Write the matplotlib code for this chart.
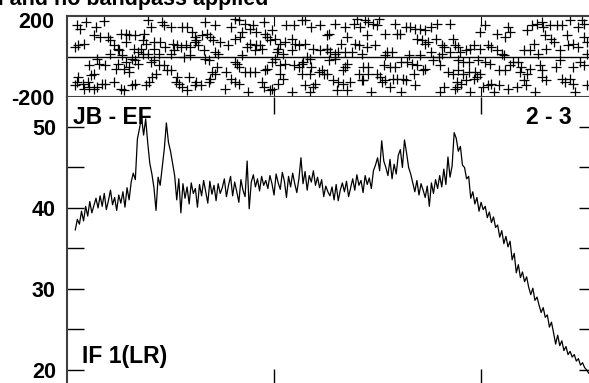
"""Phase and amplitude of the JB - EF baseline, IF 1 (LR)."""
import numpy as np
import matplotlib
matplotlib.use('Agg')
import matplotlib.pyplot as plt
from matplotlib.transforms import ScaledTranslation

plt.rcParams['font.family'] = ['Liberation Sans', 'DejaVu Sans']
plt.rcParams['font.weight'] = 'bold'

title = 'No calibration and no bandpass applied'
baseline = 'JB - EF'
stokes = 'IF 1(LR)'
scan = '2 - 3'

# phase points: channel, phase (deg)
phase_chan = [
    10, 13, 18, 28, 36, 78, 81, 92, 94, 100, 111, 116, 121, 124, 26, 32, 40, 42, 52, 57,
    60, 66, 74, 73, 76, 57, 45, 49, 11, 16, 8, 84, 90, 95, 102, 106, 110, 124, 119, 115,
    103, 100, 65, 71, 84, 78, 73, 69, 89, 42, 50, 53, 113, 119, 29, 21, 31, 37, 49, 57,
    60, 63, 66, 69, 81, 84, 89, 94, 97, 100, 86, 82, 79, 76, 60, 55, 47, 26, 23, 11,
    10, 15, 20, 21, 26, 29, 34, 37, 45, 52, 55, 63, 66, 106, 108, 111, 116, 118, 124, 105,
    8, 16,
    133, 143, 158, 162, 166, 172, 177, 180, 183, 190, 191, 198, 212, 219, 227, 230, 236, 244, 251, 130,
    135, 138, 141, 148, 156, 162, 167, 169, 174, 177, 183, 186, 193, 196, 201, 206, 211, 217, 220, 224,
    230, 238, 244, 251, 125, 127, 132, 143, 146, 169, 182, 188, 203, 204, 217, 209, 232, 235, 133, 137,
    162, 164, 201, 198, 193, 191, 206, 211, 219, 224, 227, 228, 236, 243, 248, 246, 235, 227, 206, 209,
    204, 188, 190, 196, 198, 217, 230, 240, 238, 235, 175, 162, 166, 158, 153, 154, 143, 140, 145, 138,
    137, 129, 125, 172, 182, 177, 166,
    259, 269, 277, 280, 283, 288, 291, 296, 301, 299, 317, 307, 319, 322, 327, 331, 336, 341, 346, 352,
    357, 370, 290, 253, 270, 278, 282, 290, 298, 265, 262, 254, 259, 269, 275, 285, 309, 307, 314, 338,
    343, 346, 349, 356, 362, 364, 373, 375, 370, 362, 330, 341, 352, 359, 251, 253, 259, 270, 269, 286,
    291, 306, 312, 317, 323, 328, 333, 338, 346, 354, 360, 368, 373, 251, 267, 282, 285, 291, 299, 302,
    304, 307, 312, 315, 319, 325, 327, 335, 336, 344, 257, 262, 267, 273, 261, 270, 294, 323, 360, 364,
    375, 286, 377,
    404, 399, 415, 423, 426, 428, 444, 449, 454, 459, 460, 467, 473, 478, 486, 494, 497, 499, 462, 468,
    470, 483, 489, 499, 502, 451, 441, 447, 455, 463, 476, 484, 494, 502, 378, 380, 385, 389, 393, 399,
    407, 410, 415, 420, 422, 378, 383, 388, 397, 404, 409, 417, 423, 428, 431, 436, 439, 438, 444, 447,
    457, 459, 472, 476, 489, 496, 499, 378, 383, 388, 394, 399, 385, 381, 377, 393, 396, 389, 402, 407,
    410, 412, 417, 426, 435, 441, 443, 452, 459, 463, 478, 481, 486, 489, 491, 502,
]
phase_deg = [
    154, 138, 171, 146, 174, 179, 146, 171, 154, 146, 146, 146, 121, 97, 105, 97, 97, 80, 113, 113,
    105, 105, 113, 80, 64, 72, 55, 39, 55, 64, 47, 72, 72, 47, 64, 55, 47, 72, 47, 55,
    31, 14, 39, 39, 39, 14, 14, 22, 14, 14, 31, 6, -2, 6, -10, -40, -35, -43, -35, -27,
    -52, -10, -19, -35, -27, -19, -43, -43, -68, -68, -85, -101, -126, -142, -76, -60, -60, -85, -93, -101,
    -126, -134, -126, -150, -159, -150, -134, -134, -126, -159, -167, -142, -134, -101, -134, -150, -167, -101, -142, -126,
    -142, -159,
    171, 154, 146, 187, 179, 162, 138, 154, 121, 171, 113, 129, 154, 154, 179, 179, 146, 154, 105, 105,
    113, 97, 80, 72, 55, 88, 97, 121, 47, 64, 55, 55, 97, 80, 88, 64, 72, 88, 64, 55,
    64, 39, 31, 39, 80, 55, 31, 22, 14, 6, 31, 39, 22, 39, 31, 14, -2, -10, -10, -19,
    -27, -35, -10, -27, -60, -68, -43, -35, -43, -52, -35, -27, -52, -76, -85, -68, -85, -85, -85, -109,
    -134, -126, -150, -167, -159, -175, -142, -134, -150, -175, -175, -126, -134, -109, -159, -76, -85, -76, -52, -109,
    -126, -142, -126, -76, -76, -76, -52,
    162, 146, 162, 187, 146, 179, 171, 162, 187, 154, 162, 113, 113, 113, 146, 146, 138, 138, 129, 146,
    162, 162, 105, 113, 97, 64, 55, 47, 55, 64, 22, 22, 14, 22, 22, 14, 22, 6, 22, 88,
    80, 64, 72, 88, 55, 47, 88, 55, 22, 14, 6, 6, 22, -2, 39, -19, -10, -35, -52, -52,
    -52, -43, -52, -52, -27, -27, -35, -43, -60, -19, -43, -76, -85, -85, -68, -85, -118, -85, -85, -101,
    -126, -118, -150, -109, -109, -109, -118, -85, -142, -68, -118, -126, -134, -126, -167, -167, -175, -175, -175, -150,
    -159, -118, -126,
    154, 121, 113, 97, 146, 121, 129, 154, 162, 171, 146, 154, 154, 154, 179, 146, 179, 162, 105, 88,
    72, 105, 64, 97, 72, 64, 31, 31, 14, 39, 31, 55, 47, 14, 47, 22, 31, 39, 55, 39,
    55, 47, 31, 14, 6, -19, -27, -27, -19, -27, -35, -68, -68, -43, -27, -27, -52, -76, -85, -60,
    -43, -68, -52, -19, -52, -27, -43, -68, -85, -76, -76, -85, -118, -134, -150, -109, -101, -175, -150, -142,
    -134, -175, -142, -159, -150, -118, -142, -175, -101, -118, -109, -126, -109, -134, -175, -142,
]

# amplitude, every second channel from 8 to 504
amp_chan = np.arange(8, 506, 2)
amplitude = [
    37.3, 38.6, 38.0, 39.6, 38.4, 40.2, 39.0, 40.8, 39.4, 40.3, 41.2, 40.0,
    41.5, 40.2, 41.8, 39.8, 40.9, 42.2, 40.4, 41.3, 39.7, 41.6, 40.6, 42.0, 40.1, 42.5, 41.0, 43.2,
    44.3, 43.5, 48.5, 49.8, 51.2, 49.0, 51.0,
    48.0, 45.5, 44.2, 42.5,
    39.7, 43.8, 42.8, 45.0, 47.3, 50.5,
    48.1, 47.0, 45.5, 44.0, 41.0, 43.6,
    39.4, 43.0, 41.2, 42.6, 40.5, 43.1, 41.8, 42.4, 40.1, 42.9, 41.5, 43.4, 42.0, 40.6, 43.3, 41.7,
    42.8, 40.9, 43.0, 41.8, 42.5,
    43.6, 41.4, 42.8, 43.9, 41.5, 43.2, 42.0, 40.7, 43.5, 42.2, 41.4, 45.8, 39.9, 43.2, 44.1, 42.6,
    43.6, 42.1, 43.9, 42.8,
    43.4, 42.4, 44.0, 43.0, 41.6, 44.2, 43.1, 42.3, 44.4, 43.3, 41.3, 43.9, 42.6, 44.3, 43.0, 41.9,
    43.6,
    46.2, 43.0, 44.5, 42.2, 44.0, 43.2, 44.6, 42.8, 43.8, 42.5, 43.5, 41.4, 42.7, 42.0, 41.5, 42.6,
    41.0, 42.9, 40.9, 42.2, 43.1, 42.0, 43.3, 41.4, 42.5, 43.6, 42.2, 44.1, 42.8, 43.4, 41.9, 44.0,
    42.9, 43.7, 42.4, 44.6, 45.3,
    46.2, 44.6, 48.3, 45.8, 45.0, 44.0, 46.0, 43.6, 45.4, 44.2, 46.5, 47.2, 45.0, 48.4, 46.8, 45.0,
    44.2, 43.1,
    42.0, 43.4, 41.6, 43.0, 42.2, 41.3, 42.7, 40.2, 43.1, 41.8, 43.5, 42.4, 44.0, 42.6,
    44.8, 42.9, 46.3, 43.8, 45.2, 49.3, 48.6,
    47.0, 47.6, 45.3, 45.0, 43.6, 43.9,
    41.2, 42.0, 40.5, 41.3, 39.6, 40.7, 39.8, 40.2, 38.8, 39.5, 38.2, 38.9, 37.6, 37.9,
    36.4, 37.2, 35.6, 36.5, 35.2, 35.9, 33.6, 34.4, 32.0, 33.0,
    31.4, 32.1, 30.9, 31.5, 30.2, 29.3, 30.1, 28.6, 29.0, 28.0,
    27.1, 27.7, 26.5, 26.8, 25.3, 25.9, 24.6, 23.2, 24.3, 23.0,
    23.6, 22.4, 22.9, 21.9, 22.3, 21.6, 21.9, 21.1, 21.4, 20.6, 20.9, 20.3, 20.0, 19.6,
]

W, H = 589, 383
fig = plt.figure(figsize=(W / 100, H / 100), dpi=100)
spine_color = '#404040'
tick_fs = 15.5
label_fs = 16.5


def px_axes(left, top, right, bottom):
    """Axes from pixel edges."""
    return fig.add_axes([left / W, (H - bottom) / H, (right - left) / W, (bottom - top) / H])


# phase panel
ax_ph = px_axes(67, 16, 596, 97)
ax_ph.plot(phase_chan, phase_deg, '+', color='black', ms=6.5, mew=0.9)
ax_ph.axhline(0, color='black', lw=1)
ax_ph.set_xlim(0, 511)
ax_ph.set_ylim(-200, 200)
ax_ph.set_yticks([-200, 200])
ax_ph.set_yticklabels(['-200', '200'], fontsize=tick_fs, fontweight='bold')
ax_ph.set_xticks([200, 400])
ax_ph.set_xticklabels([])
ax_ph.tick_params(axis='x', direction='in', length=7, top=True, bottom=True, color='black')
ax_ph.tick_params(axis='y', length=0, pad=9)
# the top label sits a little below its tick
lab = ax_ph.get_yticklabels()[1]
lab.set_transform(lab.get_transform() + ScaledTranslation(0, -0.04, fig.dpi_scale_trans))
for s in ax_ph.spines.values():
    s.set_color(spine_color)
    s.set_linewidth(1.5)

# amplitude panel
ax_amp = px_axes(67, 97, 596, 386.2)
ax_amp.plot(amp_chan, amplitude, color='black', lw=0.9)
ax_amp.set_xlim(0, 511)
ax_amp.set_ylim(18.0, 53.7)
ax_amp.set_yticks([20, 30, 40, 50])
ax_amp.set_yticklabels(['20', '30', '40', '50'], fontsize=tick_fs, fontweight='bold')
ax_amp.set_yticks([25, 35, 45], minor=True)
ax_amp.set_xticks([200, 400])
ax_amp.set_xticklabels([])
ax_amp.tick_params(axis='both', which='both', direction='in', length=12, width=1,
                   left=True, right=True, top=True, bottom=True, color='black')
ax_amp.tick_params(axis='y', pad=8)
ax_amp.spines['top'].set_visible(False)
for s in ['left', 'right', 'bottom']:
    ax_amp.spines[s].set_color(spine_color)
    ax_amp.spines[s].set_linewidth(1.5)

ax_amp.text(0.011, 0.968, baseline, transform=ax_amp.transAxes, ha='left', va='top',
            fontsize=label_fs, fontweight='bold')
ax_amp.text(0.955, 0.968, scan, transform=ax_amp.transAxes, ha='right', va='top',
            fontsize=label_fs, fontweight='bold')
ax_amp.text(0.028, 0.08, stokes, transform=ax_amp.transAxes, ha='left', va='baseline',
            fontsize=label_fs, fontweight='bold')

fig.text(268 / W, 1 - 5.5 / H, title, ha='right', va='baseline', fontsize=15.5,
         fontweight='bold')

fig.savefig('out.png', dpi=100)
